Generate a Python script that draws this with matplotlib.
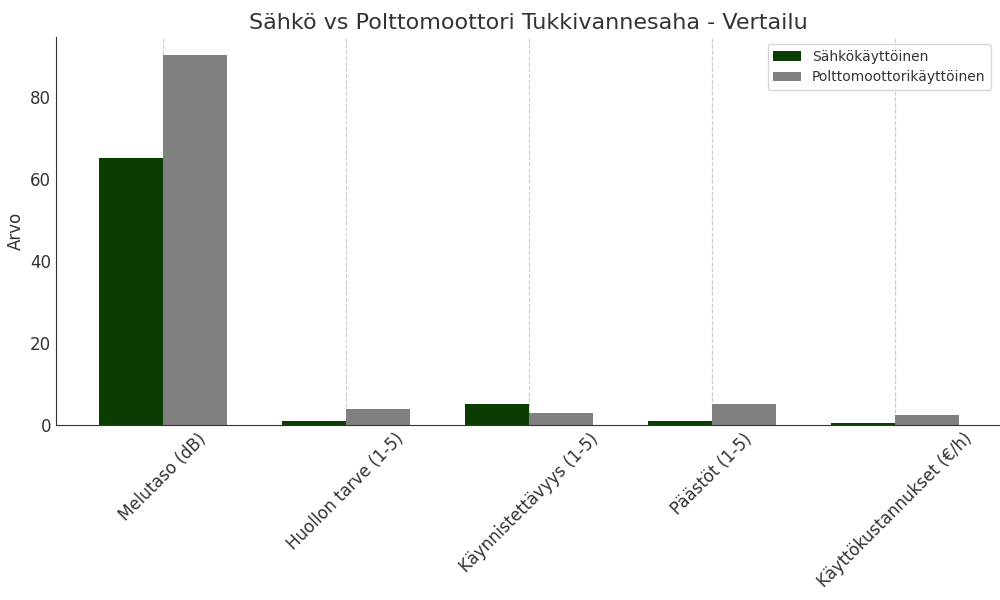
import numpy as np
import matplotlib.pyplot as plt

kategoriat = ['Melutaso (dB)', 'Huollon tarve (1-5)', 'Käynnistettävyys (1-5)',
              'Päästöt (1-5)', 'Käyttökustannukset (€/h)']
sahko = [65, 1, 5, 1, 0.5]
polttomoottori = [90, 4, 3, 5, 2.5]

x = np.arange(len(kategoriat))
leveys = 0.35

fig = plt.figure(figsize=(10, 6), dpi=100)
ax = fig.add_axes([0.056, 175 / 600, 0.944, 388 / 600])
ax.bar(x - leveys / 2, sahko, leveys, label='Sähkökäyttöinen', color='#0b3d02')
ax.bar(x + leveys / 2, polttomoottori, leveys, label='Polttomoottorikäyttöinen', color='#808080')

ax.set_xlim(-0.585, 4.575)
ax.set_title('Sähkö vs Polttomoottori Tukkivannesaha - Vertailu', fontsize=16, color='#333333')
ax.set_ylabel('Arvo', fontsize=12, color='#333333')
ax.set_xticks(x)
ax.set_xticklabels(kategoriat, rotation=45, fontsize=12, color='#333333')
ax.tick_params(axis='y', labelsize=12, length=0, labelcolor='#333333')
ax.tick_params(axis='x', length=0)
ax.grid(axis='x', linestyle='--', color='#cccccc')
ax.set_axisbelow(True)
for s in ['top', 'right']:
    ax.spines[s].set_visible(False)
ax.spines['left'].set_color('#333333')
ax.spines['bottom'].set_color('#333333')
ax.legend(fontsize=10, labelcolor='#333333', loc='upper right', bbox_to_anchor=(0.998, 1.0))

plt.savefig('out.png')
